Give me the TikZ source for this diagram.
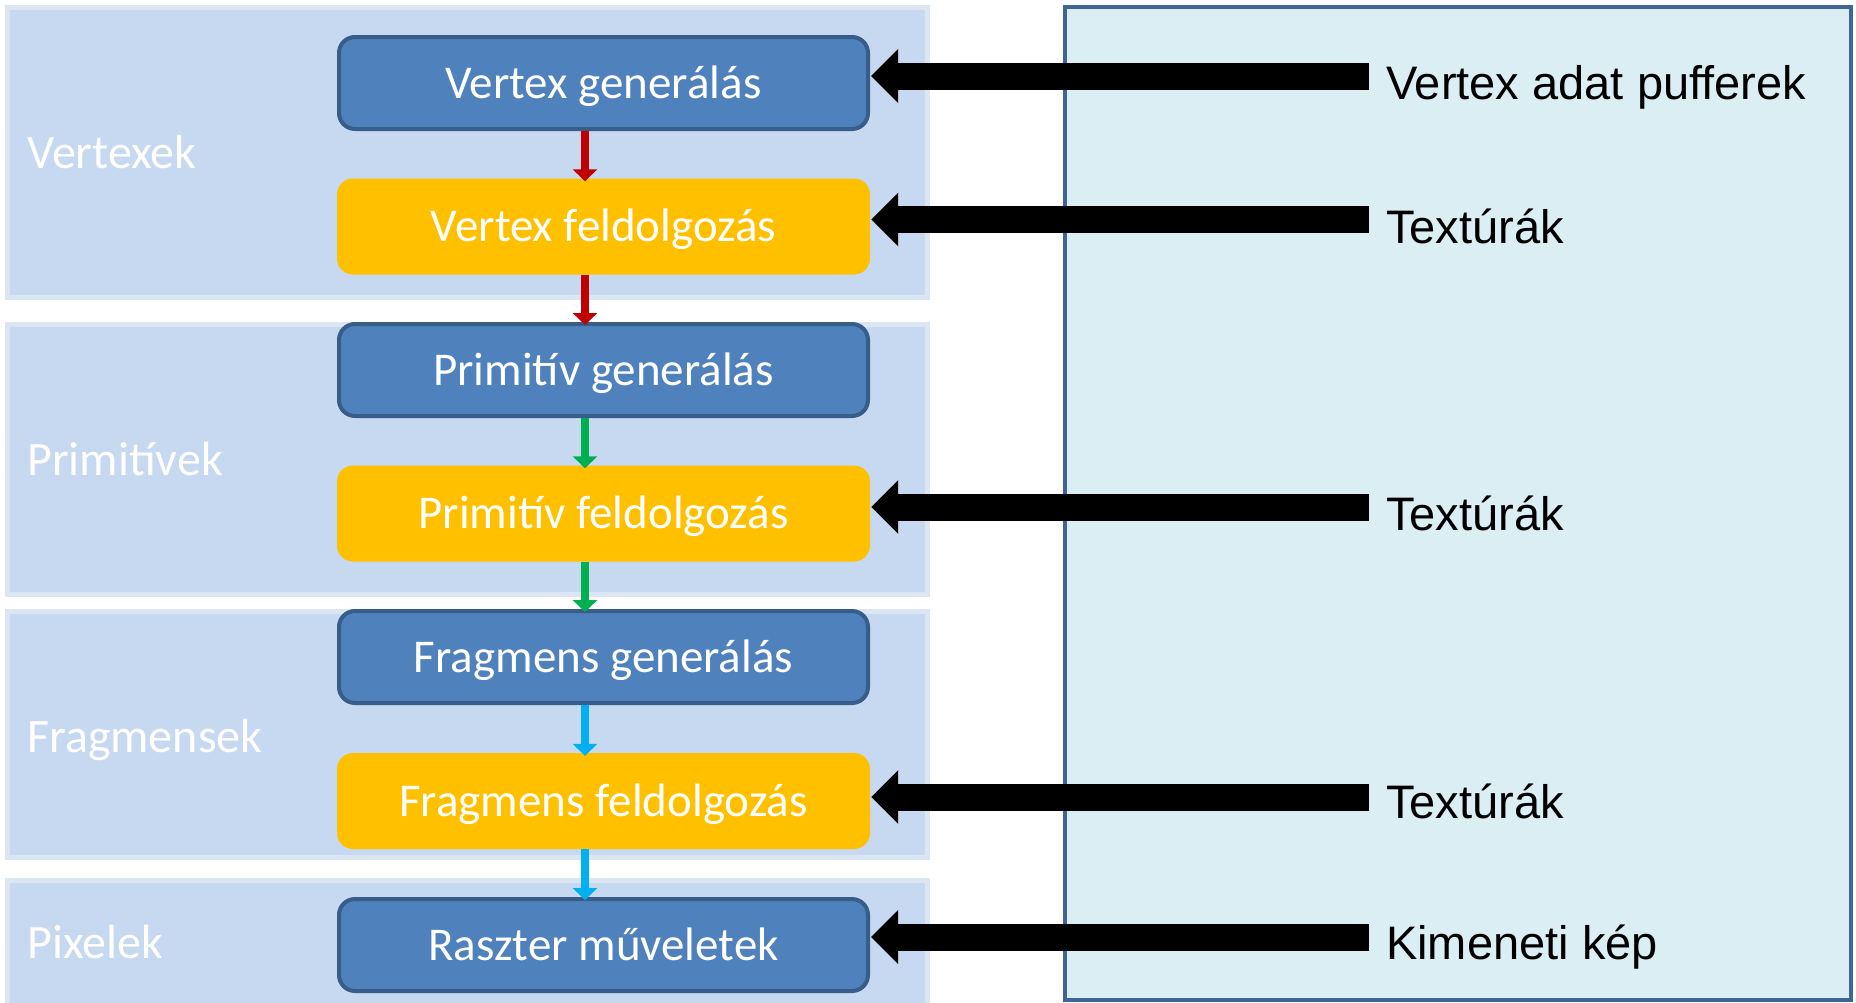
\documentclass[tikz,border=0pt]{standalone}
\usepackage{fontspec}
\setmainfont{Carlito}
\newfontfamily\arialf{Liberation Sans}
\usetikzlibrary{arrows.meta}
\definecolor{bandfill}{HTML}{C6D9F1}
\definecolor{bandedge}{HTML}{DCE6F2}
\definecolor{panelfill}{HTML}{DAEEF3}
\definecolor{paneledge}{HTML}{3F6495}
\definecolor{boxblue}{HTML}{4F81BD}
\definecolor{boxblueedge}{HTML}{385D8A}
\definecolor{boxyellow}{HTML}{FFC000}
\definecolor{arrred}{HTML}{C00000}
\definecolor{arrgreen}{HTML}{00B050}
\definecolor{arrcyan}{HTML}{00B0F0}
\begin{document}
\begin{tikzpicture}[x=1pt,y=-1pt,
  band/.style={fill=bandfill,draw=bandedge,line width=5pt},
  boxtext/.style={inner sep=0pt,text=white,font=\fontsize{47}{56}\selectfont,text height=30pt,text depth=0pt},
  genbox/.style={boxtext,rectangle,rounded corners=16pt,fill=boxblue,draw=boxblueedge,line width=4pt,minimum width=529pt,minimum height=92pt},
  procbox/.style={boxtext,rectangle,rounded corners=16pt,fill=boxyellow,minimum width=533pt,minimum height=96pt},
  grouplabel/.style={anchor=base west,text=white,font=\fontsize{48}{56}\selectfont,inner sep=0pt},
  srclabel/.style={anchor=base west,font=\arialf\fontsize{47}{56}\selectfont,inner sep=0pt},
  flow/.style={line width=8pt,-{Triangle[width=24pt,length=12pt]}},
  feed/.style={line width=27pt,-{Triangle[width=52pt,length=27pt]}},
]
\clip (0,0) rectangle (1856,1002);
\fill[white] (0,0) rectangle (1856,1002);
% bands
\draw[band] (7.5,7.5) rectangle (927.5,297.5);
\draw[band] (7.5,324.5) rectangle (927.5,594.5);
\draw[band] (7.5,611.5) rectangle (927.5,857.5);
\draw[band] (7.5,880.5) rectangle (927.5,1030);
% right panel
\draw[fill=panelfill,draw=paneledge,line width=4pt] (1065,7) rectangle (1851,1000);
% group labels
\node[grouplabel] (g1) at (27,168) {Vertexek};
\node[grouplabel] (g2) at (27,475) {Primitívek};
\node[grouplabel] (g3) at (27,752) {Fragmensek};
\node[grouplabel] (g4) at (27,958) {Pixelek};
% boxes
\node[genbox]  (b1) at (603.5,83)    {Vertex generálás};
\node[procbox] (b2) at (603.5,226.5) {Vertex feldolgozás};
\node[genbox]  (b3) at (603.5,370)   {Primitív generálás};
\node[procbox] (b4) at (603.5,513.5) {Primitív feldolgozás};
\node[genbox]  (b5) at (603.5,657)   {Fragmens generálás};
\node[procbox] (b6) at (603.5,801)   {Fragmens feldolgozás};
\node[genbox]  (b7) at (603.5,945)   {Raszter műveletek};
% flow arrows
\coordinate (ax) at (585,0);
\draw[flow,arrred]   (b1.south -| ax) -- ([yshift=-3pt]b2.north -| ax);
\draw[flow,arrred]   (b2.south -| ax) -- ([yshift=-3pt]b3.north -| ax);
\draw[flow,arrgreen] (b3.south -| ax) -- ([yshift=-3pt]b4.north -| ax);
\draw[flow,arrgreen] (b4.south -| ax) -- ([yshift=-3pt]b5.north -| ax);
\draw[flow,arrcyan]  (b5.south -| ax) -- ([yshift=-3pt]b6.north -| ax);
\draw[flow,arrcyan]  (b6.south -| ax) -- ([yshift=-3pt]b7.north -| ax);
% feed arrows
\coordinate (s1) at (1369,76);
\coordinate (s2) at (1369,219.5);
\coordinate (s4) at (1369,507);
\coordinate (s6) at (1369,797);
\coordinate (s7) at (1369,937);
\draw[feed] (s1) -- ([xshift=1pt]b1.east |- s1);
\draw[feed] (s2) -- ([xshift=1pt]b2.east |- s2);
\draw[feed] (s4) -- ([xshift=1pt]b4.east |- s4);
\draw[feed] (s6) -- ([xshift=1pt]b6.east |- s6);
\draw[feed] (s7) -- ([xshift=1pt]b7.east |- s7);
% source labels
\node[srclabel] (t1) at (1386,99)  {Vertex adat pufferek};
\node[srclabel] (t2) at (1386,243) {Textúrák};
\node[srclabel] (t4) at (1386,530) {Textúrák};
\node[srclabel] (t6) at (1386,818) {Textúrák};
\node[srclabel] (t7) at (1386,959) {Kimeneti kép};
\end{tikzpicture}
\end{document}
